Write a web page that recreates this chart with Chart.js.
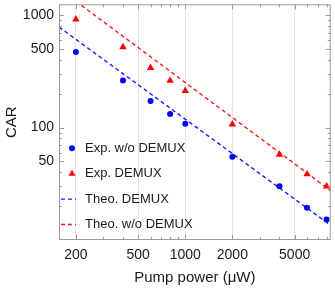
<!DOCTYPE html>
<html>
<head>
<meta charset="utf-8">
<script src="https://cdn.jsdelivr.net/npm/chart.js"></script>
<style>
  body { margin: 0; background: #fff; }
</style>
</head>
<body>
<canvas id="chart" width="335" height="289"></canvas>
<script>
// measured points
const pumpPower = [200, 400, 600, 800, 1000, 2000, 4000, 6000, 8000];
const carNoDemux = [470, 262, 172, 132, 108, 55, 30, 19.4, 15.2];
const carDemux = [920, 520, 340, 262, 212, 107, 57.5, 38.5, 30];

// theory lines (end points, straight on log-log)
const theoPower = [156, 8500];
const theoDemux = [785, 13.5];
const theoNoDemux = [1720, 27.5];

const xMajor = [200, 500, 1000, 2000, 5000];
const xMinor = [300, 400, 600, 700, 800, 900, 3000, 4000, 6000, 7000, 8000];
const yMajor = [50, 100, 500, 1000];
const yMinor = [20, 30, 40, 60, 70, 80, 90, 200, 300, 400, 600, 700, 800, 900];

const labels = ['Exp. w/o DEMUX', 'Exp. DEMUX', 'Theo. DEMUX', 'Theo. w/o DEMUX'];

const pts = (xs, ys) => xs.map((x, i) => ({x: x, y: ys[i]}));
const FONT = "'Liberation Sans', Arial, sans-serif";

// frame + inward ticks like the original
const frameTicks = {
  id: 'frameTicks',
  afterDatasetsDraw(chart) {
    const {ctx, chartArea: a, scales} = chart;
    ctx.save();
    ctx.strokeStyle = '#9a9a9a';
    ctx.lineWidth = 1;
    ctx.beginPath();
    const tick = (x1, y1, x2, y2) => { ctx.moveTo(x1, y1); ctx.lineTo(x2, y2); };
    xMajor.concat(xMinor).forEach(v => {
      const x = Math.round(scales.x.getPixelForValue(v)) + 0.5;
      const len = xMajor.includes(v) ? 5 : 3;
      tick(x, a.bottom, x, a.bottom - len);
      tick(x, a.top, x, a.top + len);
    });
    yMajor.concat(yMinor).forEach(v => {
      const y = Math.round(scales.y.getPixelForValue(v)) + 0.5;
      const len = yMajor.includes(v) ? 5 : 3;
      tick(a.left, y, a.left + len, y);
      tick(a.right, y, a.right - len, y);
    });
    ctx.stroke();
    ctx.strokeRect(a.left + 0.5, a.top + 0.5, a.right - a.left - 1, a.bottom - a.top - 1);
    ctx.restore();
  }
};

// legend drawn inside the plot area
const innerLegend = {
  id: 'innerLegend',
  afterDatasetsDraw(chart) {
    const {ctx, chartArea: a} = chart;
    const x0 = a.left + 13;
    ctx.save();
    ctx.font = '13px ' + FONT;
    ctx.textBaseline = 'middle';
    chart.data.datasets.forEach((ds, i) => {
      const y = a.top + 144 + i * 25.4;
      ctx.fillStyle = ds.backgroundColor;
      ctx.strokeStyle = ds.borderColor;
      if (ds.showLine) {
        ctx.lineWidth = 1.4;
        ctx.setLineDash([4, 3]);
        ctx.beginPath();
        ctx.moveTo(x0 - 11, y);
        ctx.lineTo(x0 + 4, y);
        ctx.stroke();
        ctx.setLineDash([]);
      } else if (ds.pointStyle === 'triangle') {
        const r = 4;
        ctx.beginPath();
        ctx.moveTo(x0, y - r);
        ctx.lineTo(x0 + r * 0.866, y + r / 2);
        ctx.lineTo(x0 - r * 0.866, y + r / 2);
        ctx.closePath();
        ctx.fill();
      } else {
        ctx.beginPath();
        ctx.arc(x0, y, 3, 0, Math.PI * 2);
        ctx.fill();
      }
      ctx.fillStyle = '#1a1a1a';
      ctx.fillText(ds.label, x0 + 13, y);
    });
    ctx.restore();
  }
};

const ctx = document.getElementById('chart');
new Chart(ctx, {
  type: 'scatter',
  data: {
    datasets: [
      {
        label: labels[0],
        data: pts(pumpPower, carNoDemux),
        backgroundColor: '#0000ff',
        borderColor: '#0000ff',
        pointStyle: 'circle',
        pointRadius: 3,
        borderWidth: 0
      },
      {
        label: labels[1],
        data: pts(pumpPower, carDemux),
        backgroundColor: '#ff0000',
        borderColor: '#ff0000',
        pointStyle: 'triangle',
        pointRadius: 4.3,
        borderWidth: 0
      },
      {
        label: labels[2],
        data: pts(theoPower, theoDemux),
        showLine: true,
        backgroundColor: '#0000ff',
        borderColor: '#1a1aff',
        borderWidth: 1.4,
        borderDash: [4, 3],
        pointRadius: 0
      },
      {
        label: labels[3],
        data: pts(theoPower, theoNoDemux),
        showLine: true,
        backgroundColor: '#ff0000',
        borderColor: '#ff1a1a',
        borderWidth: 1.4,
        borderDash: [4, 3],
        pointRadius: 0
      }
    ]
  },
  options: {
    responsive: false,
    animation: false,
    layout: { padding: { top: 0, right: 1, left: 0, bottom: 0 } },
    plugins: {
      legend: { display: false },
      tooltip: { enabled: false }
    },
    scales: {
      x: {
        type: 'logarithmic',
        min: 156,
        max: 8500,
        afterBuildTicks: s => { s.ticks = xMajor.map(v => ({value: v})); },
        afterFit: s => { s.height = 49; s.paddingLeft = 0; s.paddingRight = 0; },
        ticks: {
          autoSkip: false,
          maxRotation: 0,
          padding: 7,
          color: '#1a1a1a',
          font: { family: FONT, size: 14 },
          callback: v => String(v)
        },
        grid: { color: '#e4e4e4', drawTicks: false },
        border: { display: false },
        title: {
          display: true,
          text: 'Pump power (μW)',
          color: '#1a1a1a',
          font: { family: FONT, size: 15 },
          padding: { top: 0, bottom: 2 }
        }
      },
      y: {
        type: 'logarithmic',
        min: 10,
        max: 1250,
        afterBuildTicks: s => { s.ticks = yMajor.map(v => ({value: v})); },
        afterFit: s => { s.width = 59; s.paddingTop = 0; s.paddingBottom = 0; },
        ticks: {
          autoSkip: false,
          padding: 5,
          color: '#1a1a1a',
          font: { family: FONT, size: 14 },
          callback: v => String(v)
        },
        grid: { display: false, drawTicks: false },
        border: { display: false },
        title: {
          display: true,
          text: 'CAR',
          color: '#1a1a1a',
          font: { family: FONT, size: 15 },
          padding: { top: 3, bottom: 0 }
        }
      }
    }
  },
  plugins: [frameTicks, innerLegend]
});
</script>
</body>
</html>
